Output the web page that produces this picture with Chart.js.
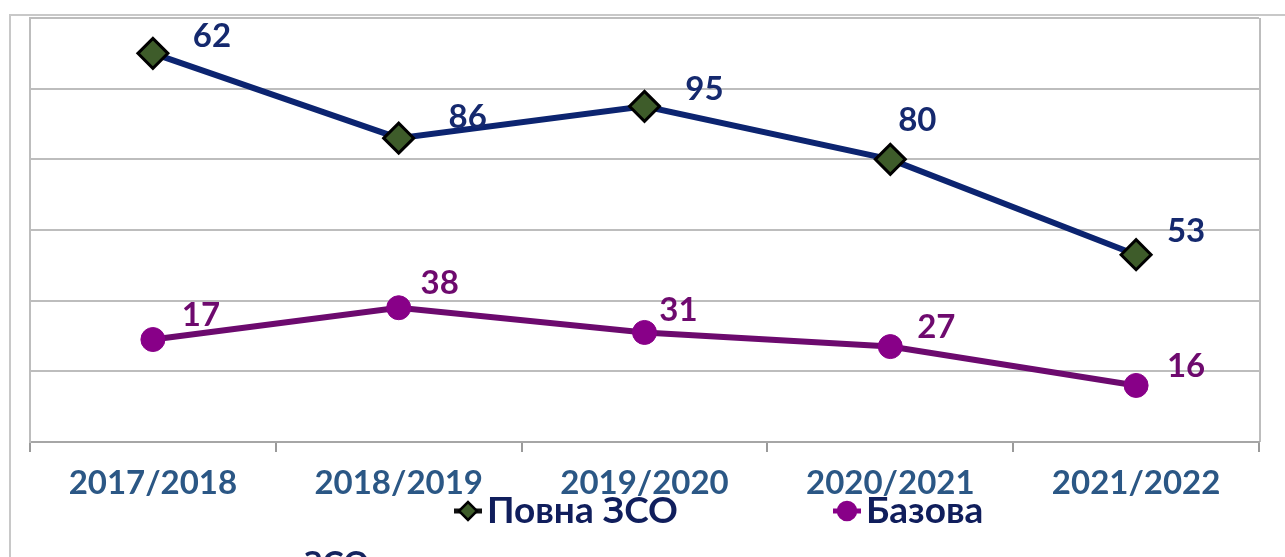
<!DOCTYPE html>
<html>
<head>
<meta charset="utf-8">
<script src="https://cdn.jsdelivr.net/npm/chart.js@4.4.1/dist/chart.umd.min.js"></script>
<style>
  html, body { margin: 0; padding: 0; background: #fff; overflow: hidden; }
  #wrap { position: relative; width: 1285px; height: 557px; }
  #cut { position: absolute; left: 304px; top: 547px; font: bold 32px Lato, sans-serif; color: #14235e; line-height: 1; }
</style>
</head>
<body>
<div id="wrap">
  <canvas id="chart" width="1285" height="557"></canvas>
  <div id="cut">ЗСО</div>
</div>
<script>
const years = ['2017/2018', '2018/2019', '2019/2020', '2020/2021', '2021/2022'];
// plotted positions, and the numbers printed beside them
const fullValues = [110, 86, 95, 80, 53];
const baseValues = [29, 38, 31, 27, 16];
const fullLabels = ['62', '86', '95', '80', '53'];
const baseLabels = ['17', '38', '31', '27', '16'];
const seriesNames = ['Повна ЗСО', 'Базова'];

const FONT = 'Lato, "Open Sans", sans-serif';
const labelOffsets = [
  [[59, -17], [69, -21], [60, -17], [27, -39], [50, -23]],
  [[48, -24], [41, -24], [34, -22], [46, -19], [50, -19]]
];
const labelColors = ['#15296e', '#6e0a6e'];

const frame = {
  id: 'frame',
  beforeDraw(chart) {
    const c = chart.ctx;
    const a = chart.chartArea;
    c.save();
    c.strokeStyle = '#c8c8c8';
    c.lineWidth = 2;
    c.beginPath();
    c.moveTo(10, chart.height);
    c.lineTo(10, 15);
    c.lineTo(chart.width, 15);
    c.stroke();
    c.strokeStyle = '#bdbdbd';
    c.beginPath();
    c.moveTo(a.right + 1, a.top);
    c.lineTo(a.right + 1, a.bottom);
    c.stroke();
    c.restore();
  }
};

const valueLabels = {
  id: 'valueLabels',
  afterDatasetsDraw(chart) {
    const c = chart.ctx;
    const texts = [fullLabels, baseLabels];
    c.save();
    c.font = 'bold 33px ' + FONT;
    c.textAlign = 'center';
    c.textBaseline = 'middle';
    chart.data.datasets.forEach((ds, i) => {
      chart.getDatasetMeta(i).data.forEach((pt, j) => {
        const off = labelOffsets[i][j];
        c.fillStyle = labelColors[i];
        c.fillText(texts[i][j], pt.x + off[0], pt.y + off[1]);
      });
    });
    c.restore();
  }
};

const legendDraw = {
  id: 'legendDraw',
  afterDraw(chart) {
    const c = chart.ctx;
    const y = 511;
    const items = [
      { x: 468, name: seriesNames[0], ds: chart.data.datasets[0], stub: '#111' },
      { x: 847, name: seriesNames[1], ds: chart.data.datasets[1], stub: '#880088' }
    ];
    c.save();
    items.forEach((it, i) => {
      c.strokeStyle = it.stub;
      c.lineWidth = 5;
      c.beginPath();
      c.moveTo(it.x - 14, y);
      c.lineTo(it.x + 14, y);
      c.stroke();
      c.fillStyle = it.ds.pointBackgroundColor;
      c.strokeStyle = it.ds.pointBorderColor;
      c.lineWidth = 2.5;
      c.beginPath();
      if (i === 0) {
        c.moveTo(it.x - 9, y); c.lineTo(it.x, y - 9); c.lineTo(it.x + 9, y); c.lineTo(it.x, y + 9);
        c.closePath();
      } else {
        c.arc(it.x, y, 9, 0, Math.PI * 2);
      }
      c.fill();
      c.stroke();
      c.fillStyle = '#101e5c';
      c.font = 'bold 37px ' + FONT;
      c.textAlign = 'left';
      c.textBaseline = 'middle';
      c.fillText(it.name, it.x + 19, y);
    });
    c.restore();
  }
};

new Chart(document.getElementById('chart'), {
  type: 'line',
  data: {
    labels: years,
    datasets: [{
      label: seriesNames[0],
      data: fullValues,
      borderColor: '#0c2470',
      borderWidth: 6,
      pointStyle: 'rectRot',
      pointRadius: 15,
      pointBackgroundColor: '#3e5c2a',
      pointBorderColor: '#000',
      pointBorderWidth: 3,
      tension: 0
    }, {
      label: seriesNames[1],
      data: baseValues,
      borderColor: '#6c0a6e',
      borderWidth: 6,
      pointStyle: 'circle',
      pointRadius: 12,
      pointBackgroundColor: '#880088',
      pointBorderColor: '#880088',
      pointBorderWidth: 1,
      tension: 0
    }]
  },
  options: {
    responsive: false,
    animation: false,
    layout: { padding: { left: 30, right: 26, top: 15, bottom: 0 } },
    plugins: { legend: { display: false }, tooltip: { enabled: false } },
    scales: {
      x: {
        offset: true,
        afterFit: s => { s.height = 115; },
        grid: { offset: true, drawOnChartArea: false, tickLength: 10, color: '#9a9a9a', lineWidth: 2 },
        border: { color: '#a6a6a6', width: 2 },
        ticks: { color: '#2b5785', padding: 12, font: { family: FONT, size: 33, weight: 'bold' } }
      },
      y: {
        min: 0,
        max: 120,
        afterFit: s => { s.width = 0; },
        ticks: { display: false, stepSize: 20 },
        grid: { color: '#bdbdbd', lineWidth: 2, drawTicks: false },
        border: { color: '#bdbdbd', width: 2 }
      }
    }
  },
  plugins: [frame, valueLabels, legendDraw]
});
</script>
</body>
</html>
